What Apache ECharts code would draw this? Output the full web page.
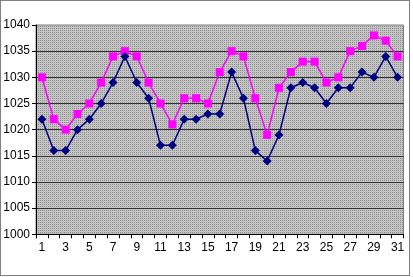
<!DOCTYPE html>
<html>
<head>
<meta charset="utf-8">
<script src="https://cdn.jsdelivr.net/npm/echarts@6/dist/echarts.min.js"></script>
<style>html,body{margin:0;padding:0;background:#fff}#c{width:413px;height:277px}</style>
</head>
<body>
<div id="c"></div>
<script>
const categories = ['1','2','3','4','5','6','7','8','9','10','11','12','13','14','15','16','17','18','19','20','21','22','23','24','25','26','27','28','29','30','31'];
const navySeries = [1022,1016,1016,1020,1022,1025,1029,1034,1029,1026,1017,1017,1022,1022,1023,1023,1031,1026,1016,1014,1019,1028,1029,1028,1025,1028,1028,1031,1030,1034,1030];
const magentaSeries = [1030,1022,1020,1023,1025,1029,1034,1035,1034,1029,1025,1021,1026,1026,1025,1031,1035,1034,1026,1019,1028,1031,1033,1033,1029,1030,1035,1036,1038,1037,1034];
const yTicks = {min:1000, max:1040, interval:5};

const pc = document.createElement('canvas');
pc.width = 2; pc.height = 2;
const pctx = pc.getContext('2d');
pctx.fillStyle = '#c4c4c4'; pctx.fillRect(0,0,2,2);
pctx.fillStyle = '#909090'; pctx.fillRect(0,0,1,1);

const chart = echarts.init(document.getElementById('c'), null, {renderer:'canvas'});
chart.setOption({
  animation:false,
  backgroundColor:'#fff',
  textStyle:{fontFamily:'Liberation Sans, Arial, sans-serif'},
  graphic:[{type:'rect', shape:{x:0.5,y:0.5,width:409,height:275}, style:{fill:'none', stroke:'#000', lineWidth:1, lineDash:[1,1]}, silent:true, z:100}],
  grid:{left:36, top:25, right:9.5, bottom:42.7, show:true, backgroundColor:{image:pc, repeat:'repeat'}, borderColor:'#808080', borderWidth:1},
  xAxis:{type:'category', data:categories, boundaryGap:true,
    axisLine:{lineStyle:{color:'#000', width:1}},
    axisTick:{show:true, interval:0, length:4, lineStyle:{color:'#000'}},
    axisLabel:{interval:1, color:'#000', fontSize:12, margin:7, fontFamily:'Liberation Sans'}},
  yAxis:{type:'value', min:yTicks.min, max:yTicks.max, interval:yTicks.interval,
    axisLine:{show:true, lineStyle:{color:'#000', width:1}},
    axisTick:{show:true, length:4, lineStyle:{color:'#000'}},
    axisLabel:{color:'#000', fontSize:12, margin:6, fontFamily:'Liberation Sans', formatter:function(v){return String(v);}},
    splitLine:{show:true, showMaxLine:false, lineStyle:{color:'#333', width:1}}},
  series:[
    {type:'line', data:navySeries, symbol:'diamond', symbolSize:9, showAllSymbol:true, lineStyle:{color:'#000080', width:1.5}, itemStyle:{color:'#000080'}, z:3},
    {type:'line', data:magentaSeries, symbol:'rect', symbolSize:8, showAllSymbol:true, lineStyle:{color:'#ff00ff', width:1.5}, itemStyle:{color:'#ff00ff'}, z:2}
  ]
});
</script>
</body>
</html>
